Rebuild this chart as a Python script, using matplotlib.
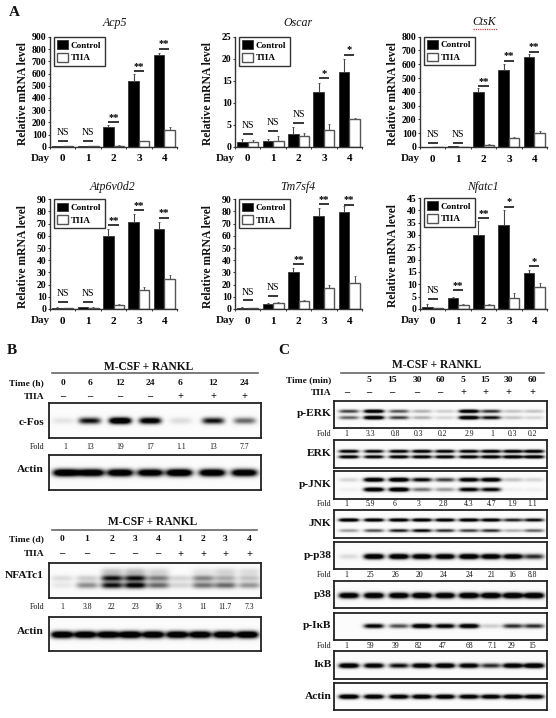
import numpy as np
import matplotlib
matplotlib.use("Agg")
import matplotlib.pyplot as plt

plt.rcParams['font.family'] = ['Liberation Serif', 'DejaVu Serif']

W, H = 556, 718
days = ['0', '1', '2', '3', '4']

# ---- panel A data
acp5_ctrl = [5, 5, 160, 540, 755]
acp5_ctrl_err = [0, 0, 15, 60, 15]
acp5_tiia = [3, 3, 8, 45, 140]
acp5_tiia_err = [0, 0, 2, 3, 20]
acp5_sig = ['NS', 'NS', '**', '**', '**']
acp5_sig_y = [45, 50, 200, 620, 805]
acp5_ticks = [0, 100, 200, 300, 400, 500, 600, 700, 800, 900]

oscar_ctrl = [1, 1.4, 3, 12.5, 17]
oscar_ctrl_err = [0.8, 0.4, 1.6, 2, 3]
oscar_tiia = [1, 1.4, 2.4, 3.9, 6.2]
oscar_tiia_err = [0.6, 1, 0.8, 1.3, 0.4]
oscar_sig = ['NS', 'NS', 'NS', '*', '*']
oscar_sig_y = [3, 3.6, 5.4, 15.6, 21]
oscar_ticks = [0, 5, 10, 15, 20, 25]

ctsk_ctrl = [1, 5, 400, 555, 652]
ctsk_ctrl_err = [0, 0, 25, 50, 20]
ctsk_tiia = [1, 1, 18, 65, 105]
ctsk_tiia_err = [0, 0, 2, 8, 10]
ctsk_sig = ['NS', 'NS', '**', '**', '**']
ctsk_sig_y = [29, 30, 440, 626, 691]
ctsk_ticks = [0, 100, 200, 300, 400, 500, 600, 700, 800]

atp_ctrl = [1, 1.5, 60, 71, 65.5]
atp_ctrl_err = [0.3, 0.5, 6, 7, 6]
atp_tiia = [0.8, 1.2, 3.2, 15.5, 25]
atp_tiia_err = [0.2, 0.3, 0.5, 2.5, 2.5]
atp_sig = ['NS', 'NS', '**', '**', '**']
atp_sig_y = [6, 6, 69, 81, 75]
atp_ticks = [0, 10, 20, 30, 40, 50, 60, 70, 80, 90]

tm7_ctrl = [1, 4, 30.5, 76, 79.5]
tm7_ctrl_err = [0.3, 1, 3, 7, 5]
tm7_tiia = [0.8, 5, 6.5, 17, 21]
tm7_tiia_err = [0.2, 0.5, 0.5, 2.5, 6]
tm7_sig = ['NS', 'NS', '**', '**', '**']
tm7_sig_y = [7, 10.4, 37, 86, 85.6]
tm7_ticks = [0, 10, 20, 30, 40, 50, 60, 70, 80, 90]

nfat_ctrl = [1, 4.3, 30, 34, 14.7]
nfat_ctrl_err = [1, 0.5, 5.5, 6, 1.3]
nfat_tiia = [0.3, 1.5, 1.6, 4.5, 9]
nfat_tiia_err = [0.1, 0.4, 0.3, 2, 1.5]
nfat_sig = ['NS', '**', '**', '*', '*']
nfat_sig_y = [4, 7.6, 36.8, 41.5, 17.4]
nfat_ticks = [0, 5, 10, 15, 20, 25, 30, 35, 40, 45]

# ---- panel B data
cfos_time = ['0', '6', '12', '24', '6', '12', '24']
cfos_tiia = ['–', '–', '–', '–', '+', '+', '+']
cfos_fold = ['1', '13', '19', '17', '1.1', '13', '7.7']
cfos_band = [.06, .62, 1, .8, .08, .62, .38]
cfos_actin = [1, .95, .95, .9, 1, .95, .9]

nfatc1_time = ['0', '1', '2', '3', '4', '1', '2', '3', '4']
nfatc1_tiia = ['–', '–', '–', '–', '–', '+', '+', '+', '+']
nfatc1_fold = ['1', '3.8', '22', '23', '16', '3', '11', '11.7', '7.3']
nfatc1_smear = [0, 0, .14, .16, .1, 0, .06, .1, .08]
nfatc1_upper = [.08, .12, .6, .62, .32, .1, .3, .2, .14]
nfatc1_lower = [.05, .28, .62, .7, .38, .1, .35, .38, .26]
nfatc1_actin = [.95, .95, .95, 1, .95, .95, .95, .95, 1]

# ---- panel C data
c_time = ['', '5', '15', '30', '60', '5', '15', '30', '60']
c_tiia = ['–', '–', '–', '–', '–', '+', '+', '+', '+']
perk_fold = ['1', '3.3', '0.8', '0.3', '0.2', '2.9', '1', '0.3', '0.2']
pjnk_fold = ['1', '5.9', '6', '3', '2.8', '4.3', '4.7', '1.9', '1.1']
pp38_fold = ['1', '25', '26', '20', '24', '24', '21', '16', '8.8']
pikb_fold = ['1', '59', '39', '82', '47', '68', '7.1', '29', '15']
perk_upper = [.5, .95, .45, .2, .12, .95, .55, .15, .15]
perk_lower = [.4, 1, .5, .2, .1, 1, .65, .15, .1]
erk_upper = [.8, .75, .8, .85, .8, .8, .85, .85, .9]
erk_lower = [.85, .8, .85, .85, .85, .85, .9, .95, .95]
pjnk_upper = [.1, .95, 1, .7, .5, .85, .9, .15, .1]
pjnk_lower = [.03, .95, 1, .35, .25, .75, .7, .03, .03]
jnk_upper = [.95, .9, .9, .9, .85, .9, .85, .6, .7]
jnk_lower = [.25, .45, .6, .7, .55, .5, .55, .2, .4]
pp38_band = [.08, .95, .95, .9, .9, .95, .9, .85, .55]
p38_band = [.9, .95, .95, 1, .95, 1, 1, 1, 1]
pikb_band = [0, .75, .45, .95, .8, .9, .12, .55, .55]
ikb_band = [.95, .85, .65, .9, .95, .85, .55, .9, 1]
cactin_band = [.95, .9, .85, .9, .9, .85, .85, .9, .85]

fig = plt.figure(figsize=(W / 100, H / 100), dpi=100)
overlay = fig.add_axes([0, 0, 1, 1], zorder=5)
overlay.set_xlim(0, W)
overlay.set_ylim(H, 0)
overlay.axis('off')


def px_axes(x0, y0, x1, y1, **kw):
    return fig.add_axes([x0 / W, 1 - y1 / H, (x1 - x0) / W, (y1 - y0) / H], **kw)


def label(x, y, s, size=7, weight='bold', ha='center', va='center', **kw):
    overlay.text(x, y, s, fontsize=size, fontweight=weight, ha=ha, va=va, color='#111111', **kw)


def bar_panel(x0, y0, ytop, title, tx, ty, ymax, ticks, ctrl, cerr, tiia, terr, sig, sig_y):
    ax = px_axes(x0, ytop, x0 + 127, y0)
    x = np.arange(5)
    w = 0.41
    b1 = ax.bar(x - w / 2, ctrl, w, color='black', edgecolor='#333333', linewidth=0.6,
                yerr=[np.zeros(5), cerr], ecolor='#444444',
                error_kw=dict(lw=0.8, capsize=1, capthick=0.6), zorder=2)
    b2 = ax.bar(x + w / 2, tiia, w, color='white', edgecolor='#555555', linewidth=1.0,
                yerr=[np.zeros(5), terr], ecolor='#555555',
                error_kw=dict(lw=0.8, capsize=1, capthick=0.6), zorder=2)
    ax.set_xlim(-0.5, 4.5)
    ax.set_ylim(0, ymax)
    ax.set_yticks(ticks)
    ax.set_yticklabels([str(t) for t in ticks], fontsize=7, fontweight='bold')
    ax.tick_params(axis='y', length=1.5, width=0.7, pad=1, color='#333333')
    ax.set_xticks(np.arange(-0.5, 5, 1))
    ax.set_xticklabels([])
    ax.tick_params(axis='x', which='major', length=1.5, width=0.7, color='#333333')
    ax.set_xticks(x, minor=True)
    ax.set_xticklabels(days, minor=True, fontsize=8, fontweight='bold')
    ax.tick_params(axis='x', which='minor', length=0, pad=5.5)
    for s in ['top', 'right']:
        ax.spines[s].set_visible(False)
    for s in ['left', 'bottom']:
        ax.spines[s].set_linewidth(1.0)
        ax.spines[s].set_color('#333333')
    ax.patch.set_alpha(0)
    for xi, s, yv in zip(x, sig, sig_y):
        ax.plot([xi - 0.2, xi + 0.2], [yv, yv], color='black', lw=1.1, solid_capstyle='butt', zorder=3)
        if s == 'NS':
            ax.annotate(s, (xi, yv), xytext=(0, 6), textcoords='offset points', ha='center',
                        va='center', fontsize=7, annotation_clip=False)
        else:
            ax.annotate(s, (xi, yv), xytext=(0, 3.5), textcoords='offset points', ha='center',
                        va='center', fontsize=7.5, fontweight='bold', annotation_clip=False)
    leg = ax.legend([b1, b2], ['Control', 'TIIA'], loc='upper left', bbox_to_anchor=(3.5 / 127, 1.0),
                    borderaxespad=0, fancybox=False, framealpha=1, edgecolor='#333333',
                    prop=dict(size=6.6, weight='bold'), handlelength=1.25, handleheight=1.1,
                    handletextpad=0.3, labelspacing=0.35, borderpad=0.35)
    leg.get_frame().set_linewidth(1.0)
    leg.set_zorder(6)
    label(x0 - 27, (ytop + y0) / 2 + 2, 'Relative mRNA level', size=8.4, rotation=90)
    label(x0 - 10, y0 + 11.5, 'Day', size=8)
    label(tx, ty, title, size=8.6, weight='normal', style='italic')


bar_panel(50, 146.7, 37, 'Acp5', 115, 23, 900, acp5_ticks, acp5_ctrl, acp5_ctrl_err, acp5_tiia, acp5_tiia_err, acp5_sig, acp5_sig_y)
bar_panel(235, 146.7, 37, 'Oscar', 298, 23, 25, oscar_ticks, oscar_ctrl, oscar_ctrl_err, oscar_tiia, oscar_tiia_err, oscar_sig, oscar_sig_y)
bar_panel(420, 147, 36.7, 'CtsK', 484, 22, 800, ctsk_ticks, ctsk_ctrl, ctsk_ctrl_err, ctsk_tiia, ctsk_tiia_err, ctsk_sig, ctsk_sig_y)
bar_panel(50, 309, 199.3, 'Atp6v0d2', 113, 186.7, 90, atp_ticks, atp_ctrl, atp_ctrl_err, atp_tiia, atp_tiia_err, atp_sig, atp_sig_y)
bar_panel(235, 309, 199.3, 'Tm7sf4', 298, 186.7, 90, tm7_ticks, tm7_ctrl, tm7_ctrl_err, tm7_tiia, tm7_tiia_err, tm7_sig, tm7_sig_y)
bar_panel(420, 309, 198, 'Nfatc1', 483, 186.7, 45, nfat_ticks, nfat_ctrl, nfat_ctrl_err, nfat_tiia, nfat_tiia_err, nfat_sig, nfat_sig_y)

# spell-check squiggle under CtsK
overlay.plot([473, 497], [29, 29], color='#d04040', lw=0.9, ls=(0, (1, 0.8)))

label(14, 12.7, 'A', size=11)
label(11.7, 351, 'B', size=11)
label(284, 351, 'C', size=11)


def blot(x0, y0, x1, y1, lanes, bands, wx=10):
    """bands: list of (vertical fraction, lane intensities, half thickness px)."""
    ax = px_axes(x0, y0, x1, y1)
    n = 2
    xs = np.arange(x0, x1, 1 / n)
    ys = np.arange(y0, y1, 1 / n)
    X, Y = np.meshgrid(xs, ys)
    dark = np.zeros_like(X)
    for frac, vals, wy in bands:
        yc = y0 + frac * (y1 - y0)
        for lx, a in zip(lanes, vals):
            dark += a * 1.6 * np.exp(-((X - lx) / wx) ** 4) * np.exp(-((Y - yc) / wy) ** 2)
    img = 0.985 - np.clip(dark, 0, 1) * 0.97
    ax.imshow(img, cmap='gray', vmin=0, vmax=1, extent=(x0, x1, y1, y0), aspect='auto', interpolation='bilinear')
    ax.set_xticks([])
    ax.set_yticks([])
    for s in ax.spines.values():
        s.set_linewidth(1.3)
        s.set_color('#222222')


def header(cx, ty, lx0, lx1, ly, row1y, row2y, right, lanes, time_label, times, tiia):
    label(cx, ty, 'M-CSF + RANKL', size=8.3)
    overlay.plot([lx0, lx1], [ly, ly], color='#666666', lw=1.2)
    label(right, row1y, time_label, size=6.8, ha='right')
    label(right, row2y, 'TIIA', size=6.8, ha='right')
    for lx, t, s in zip(lanes, times, tiia):
        label(lx, row1y, t, size=6.8)
        label(lx, row2y, s, size=7.5)


def fold_row(y, right, lanes, vals):
    label(right, y, 'Fold', size=5.8, weight='normal', ha='right')
    for lx, v in zip(lanes, vals):
        label(lx, y, v, size=5.5, weight='normal')


# ---- panel B
lanes_b1 = [63, 89.5, 120, 150, 180.5, 213, 244.5]
header(149, 366.7, 52, 258, 373.3, 382.7, 396.7, 44, lanes_b1, 'Time (h)', cfos_time, cfos_tiia)
blot(49, 403.3, 261, 438.3, lanes_b1, [(0.5, cfos_band, 3.2)], wx=11)
label(44, 422.7, 'c-Fos', size=8.2, ha='right')
fold_row(446.7, 44, [65, 90, 120.5, 150, 181.5, 213, 244.5], cfos_fold)
blot(49, 455, 261, 490, [66, 91, 120, 150, 179, 212, 244], [(0.5, cfos_actin, 3.6)], wx=13)
label(44, 470, 'Actin', size=8.2, ha='right')

lanes_b2 = [62, 87, 112, 135, 158, 180, 203, 225, 249]
header(153, 522.3, 52, 257, 530, 539, 554, 44, lanes_b2, 'Time (d)', nfatc1_time, nfatc1_tiia)
blot(49, 562.7, 261, 597.7, lanes_b2,
     [(0.25, nfatc1_smear, 4), (0.43, nfatc1_upper, 3), (0.63, nfatc1_lower, 3.2)], wx=11)
label(44, 575.7, 'NFATc1', size=8.2, ha='right')
fold_row(607, 44, lanes_b2, nfatc1_fold)
blot(49, 616.7, 261, 651, [62, 85, 108, 130, 153, 177, 200, 224, 247], [(0.53, nfatc1_actin, 3.4)], wx=11)
label(44, 631.7, 'Actin', size=8.2, ha='right')

# ---- panel C
lanes_c = [346.7, 369, 392, 417, 440, 463, 485, 508, 532]
bands_c = [349, 374, 399, 422, 445, 469, 491, 513, 534]
folds_c = [346, 370, 395, 419, 443, 469, 492, 512, 532]
cx0, cx1, cr = 334.3, 547, 331.7
header(437, 365, 341, 544, 373, 380, 392.7, cr, lanes_c, 'Time (min)', c_time, c_tiia)

rows = [
    ('p-ERK', 400.7, 428.3, [(0.40, perk_upper, 1.7), (0.63, perk_lower, 1.8)]),
    ('ERK', 440, 467.7, [(0.40, erk_upper, 1.6), (0.60, erk_lower, 1.6)]),
    ('p-JNK', 470.7, 499, [(0.33, pjnk_upper, 2.0), (0.67, pjnk_lower, 2.0)]),
    ('JNK', 510.3, 537.7, [(0.35, jnk_upper, 1.6), (0.73, jnk_lower, 1.6)]),
    ('p-p38', 542, 569.3, [(0.55, pp38_band, 2.6)]),
    ('p38', 581, 608.3, [(0.55, p38_band, 2.8)]),
    ('p-IκB', 612.7, 640.3, [(0.50, pikb_band, 2.2)]),
    ('IκB', 651, 678.7, [(0.52, ikb_band, 2.4)]),
    ('Actin', 683, 710.3, [(0.52, cactin_band, 2.2)]),
]
for name, y0, y1, bands in rows:
    blot(cx0, y0, cx1, y1, bands_c, bands, wx=10)
    label(cr, (y0 + y1) / 2 - 0.5, name, size=8.2, ha='right')
fold_row(434, cr, folds_c, perk_fold)
fold_row(504.3, cr, folds_c, pjnk_fold)
fold_row(575.3, cr, folds_c, pp38_fold)
fold_row(645.7, cr, folds_c, pikb_fold)

fig.savefig('out.png', dpi=100)
